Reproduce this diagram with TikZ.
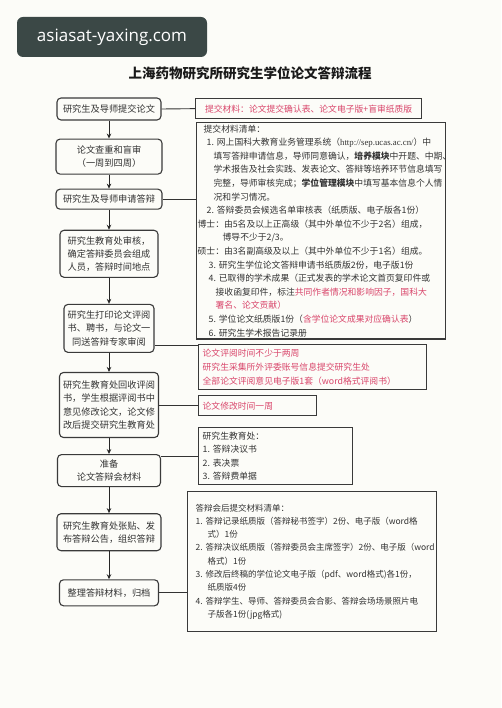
\documentclass[tikz,border=0pt]{standalone}
\usepackage{fontspec}
\setmainfont{Noto Sans CJK SC}
\newfontfamily\wmfont{Open Sans}
\newfontfamily\urlfont{Liberation Serif}
\usepackage{xcolor}
\usepackage{tikz}
\usetikzlibrary{positioning,arrows.meta,calc,backgrounds}
\definecolor{pagebg}{HTML}{FCFCF8}
\definecolor{inkgray}{HTML}{333333}
\definecolor{framegray}{HTML}{3A3A3A}
\definecolor{notered}{HTML}{D9466B}
\definecolor{wmgreen}{HTML}{3B4846}
\newcommand{\hl}[1]{\textcolor{notered}{#1}}

\begin{document}
\begin{tikzpicture}[
    x=1pt, y=-1pt,
    stepbox/.style={rectangle, draw=framegray, line width=1.1pt, rounded corners=4pt, align=center,
      inner sep=1pt, text=inkgray, font=\fontsize{9.2}{13.2}\selectfont},
    notebox/.style={rectangle, draw=framegray, line width=1.3pt, anchor=north west, align=left,
      inner xsep=1pt, inner ysep=2pt, text=inkgray, font=\fontsize{8.8}{13.6}\selectfont},
    arr/.style={-{Stealth[length=5pt,width=4.5pt]}, line width=1pt, draw=black!85},
    link/.style={line width=0.9pt, draw=black!80}
  ]
    \useasboundingbox (0,0) rectangle (501,708);
    \fill[pagebg] (0,0) rectangle (501,708);

    % watermark and title
    \node[fill=wmgreen, rounded corners=6pt, minimum width=190pt, minimum height=40pt,
      text=white, font=\wmfont\fontsize{17}{18}\selectfont] (wm) at (112,37) {asiasat-yaxing.com};
    \node[text=black!90, font=\bfseries\fontsize{13.5}{15}\selectfont] (title) at (250,73)
      {上海药物研究所研究生学位论文答辩流程};

    % main flow
    \node[stepbox, minimum width=104pt, minimum height=22pt] (b1) at (109,109) {研究生及导师提交论文};
    \node[stepbox, minimum width=106pt, minimum height=35pt, below=18pt of b1] (b2) {论文查重和盲审\\（一周到四周）};
    \node[stepbox, minimum width=106pt, minimum height=20pt, below=14pt of b2] (b3) {研究生及导师申请答辩};
    \node[stepbox, minimum width=98pt, minimum height=47pt, below=20pt of b3] (b4)
      {研究生教育处审核，\\确定答辩委员会组成\\人员，答辩时间地点};
    \node[stepbox, minimum width=90pt, minimum height=48pt, below=26pt of b4] (b5)
      {研究生打印论文评阅\\书、聘书，与论文一\\同送答辩专家审阅};
    \node[stepbox, minimum width=99pt, minimum height=65pt, below=19pt of b5] (b6)
      {研究生教育处回收评阅\\书，学生根据评阅书中\\意见修改论文，论文修\\改后提交研究生教育处};
    \node[stepbox, minimum width=103pt, minimum height=32pt, below=16pt of b6] (b7) {准备\\论文答辩会材料};
    \node[stepbox, minimum width=104pt, minimum height=37pt, below=26pt of b7] (b8)
      {研究生教育处张贴、发\\布答辩公告，组织答辩};
    \node[stepbox, minimum width=99pt, minimum height=26pt, below=28pt of b8] (b9) {整理答辩材料，归档};

    \draw[arr] (b1)--(b2); \draw[arr] (b2)--(b3); \draw[arr] (b3)--(b4);
    \draw[arr] (b4)--(b5); \draw[arr] (b5)--(b6); \draw[arr] (b6)--(b7);
    \draw[arr] (b7)--(b8); \draw[arr] (b8)--(b9);

    % side notes
    \node[notebox, align=center, text=notered, minimum width=226pt, minimum height=20pt] (r1) at (195,98)
      {提交材料：论文提交确认表、论文电子版+盲审纸质版};
    \node[notebox, text width=247pt, minimum height=215pt] (r2) at (196,122)
      {\hspace{6pt}提交材料清单：\\
       \hspace{9pt}1.~网上国科大教育业务管理系统（{\urlfont http://sep.ucas.ac.cn/}）中\\
       \hspace{16pt}填写答辩申请信息，导师同意确认，\textbf{培养模块}中开题、中期、\\
       \hspace{16pt}学术报告及社会实践、发表论文、答辩等培养环节信息填写\\
       \hspace{16pt}完整，导师审核完成；\textbf{学位管理模块}中填写基本信息个人情\\
       \hspace{16pt}况和学习情况。\\
       \hspace{9pt}2.~答辩委员会候选名单审核表（纸质版、电子版各1份）\\
       博士：由5名及以上正高级（其中外单位不少于2名）组成，\\
       \hspace{25pt}博导不少于2/3。\\
       硕士：由3名副高级及以上（其中外单位不少于1名）组成。\\
       \hspace{11pt}3.~研究生学位论文答辩申请书纸质版2份，电子版1份\\
       \hspace{11pt}4.~已取得的学术成果（正式发表的学术论文首页复印件或\\
       \hspace{18pt}接收函复印件，标注\hl{共同作者情况和影响因子，国科大}\\
       \hspace{18pt}\hl{署名、论文贡献）}\\
       \hspace{11pt}5.~学位论文纸质版1份（\hl{含学位论文成果对应确认表}）\\
       \hspace{11pt}6.~研究生学术报告记录册};
    \node[notebox, text=notered, inner xsep=4pt, text width=220pt, minimum height=45pt] (r3) at (198,344)
      {论文评阅时间不少于两周\\
       研究生采集所外评委账号信息提交研究生处\\
       全部论文评阅意见电子版1套（word格式评阅书）};
    \node[notebox, text=notered, inner xsep=4pt, text width=110pt, minimum height=20pt] (r4) at (198,395)
      {论文修改时间一周};
    \node[notebox, inner xsep=4pt, text width=146pt, minimum height=57pt] (r5) at (198,427)
      {研究生教育处：\\1.~答辩决议书\\2.~表决票\\3.~答辩费单据};
    \node[notebox, text width=247pt, minimum height=140pt, font=\fontsize{8.5}{13.3}\selectfont] (r6) at (187,491)
      {\hspace{7pt}答辩会后提交材料清单：\\
       \hspace{7pt}1.~答辩记录纸质版（答辩秘书签字）2份、电子版（word格\\
       \hspace{19pt}式）1份\\
       \hspace{7pt}2.~答辩决议纸质版（答辩委员会主席签字）2份、电子版（word\\
       \hspace{19pt}格式）1份\\
       \hspace{7pt}3.~修改后终稿的学位论文电子版（pdf、word格式)各1份，\\
       \hspace{19pt}纸质版4份\\
       \hspace{7pt}4.~答辩学生、导师、答辩委员会合影、答辩会场场景照片电\\
       \hspace{19pt}子版各1份(jpg格式)};

    % ties to the notes
    \draw[link] (b1.east) -- (r1.west);
    \draw[link] (b3.east) -- (b3.east -| r2.west);
    \draw[link] ([yshift=-1.5pt]r3.north west) -- ([yshift=-1.5pt]r3.north west -| b5.east);
    \draw[link] (b6.east |- r4.west) -- (r4.west);
    \draw[link] (b7.east |- r5.west) -- (r5.west);
    \draw[link] (b9.east) -- (b9.east -| r6.west);
  \end{tikzpicture}
\end{document}
